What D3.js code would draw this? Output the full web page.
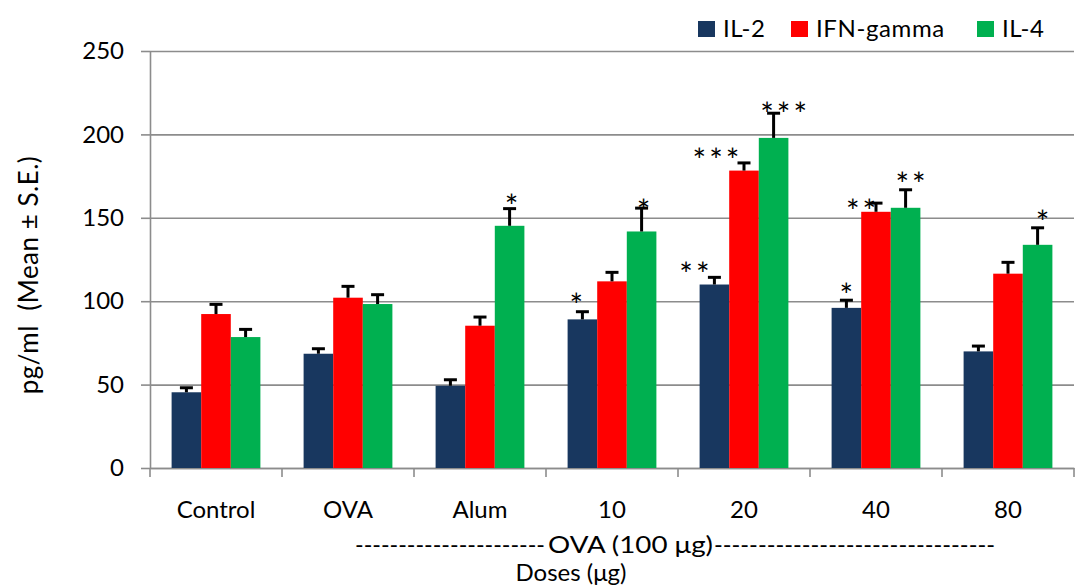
<!DOCTYPE html>
<html>
  <head>
    <script type="text/javascript" src="https://cdn.jsdelivr.net/npm/d3@7"></script>
    <style>
      body { margin: 0; background: #fff; }
      text { font-family: Lato, "Open Sans", sans-serif; fill: #000; }
    </style>
  </head>
  <body>
    <script type="text/javascript">
      // data
      var categories = ["Control", "OVA", "Alum", "10", "20", "40", "80"];
      var seriesNames = ["IL-2", "IFN-gamma", "IL-4"];
      var il2 = [45.4, 68.5, 49.3, 89.1, 110, 96, 69.9];
      var il2Err = [2.7, 3, 3.6, 4.6, 4.3, 4.6, 3.2];
      var ifn = [92.3, 102.1, 85.3, 111.9, 178.3, 153.6, 116.5];
      var ifnErr = [5.8, 6.8, 5.2, 5.4, 4.6, 5.2, 6.8];
      var il4 = [78.5, 98.3, 145.2, 141.8, 197.9, 156, 133.8];
      var il4Err = [4.6, 5.6, 10.3, 14, 14.8, 10.8, 10.2];
      var il2Sig = ["", "", "", "*", "**", "*", ""];
      var ifnSig = ["", "", "", "", "***", "**", ""];
      var il4Sig = ["", "", "*", "*", "***", "**", "*"];
      var yTicks = [0, 50, 100, 150, 200, 250];

      var colors = ["#18375f", "#ff0000", "#00b050"];
      // hand nudges for the star labels: [dx from bar centre, dy of star centre from error cap]
      var starNudge = [
        [[0,0],[0,0],[0,0],[-6,-13],[-20,-10],[0,-12],[0,0]],
        [[0,0],[0,0],[0,0],[0,0],[-28,-9],[-15,1],[0,0]],
        [[0,0],[0,0],[2,-9],[2,-4],[10,-6],[5,-12],[5,-12]]
      ];

      var w = 1078, h = 588;
      var plotL = 150, plotR = 1074, plotT = 51, plotB = 468;

      var rows = seriesNames.map(function(name, s) {
        var vals = [il2, ifn, il4][s], errs = [il2Err, ifnErr, il4Err][s], sig = [il2Sig, ifnSig, il4Sig][s];
        return categories.map(function(c, i) {
          return { s: s, name: name, cat: c, i: i, v: vals[i], e: errs[i], sig: sig[i] };
        });
      });
      var flat = d3.merge(rows);

      var x = d3.scaleBand().domain(categories).range([plotL, plotR]).paddingInner(0).paddingOuter(0);
      var x1 = d3.scaleBand().domain(seriesNames).range([0, x.bandwidth()]).paddingInner(0).paddingOuter(0.73);
      var y = d3.scaleLinear().domain([0, 250]).range([plotB, plotT]);

      var svg = d3.select("body").append("svg")
        .attr("width", w)
        .attr("height", h);

      // gridlines
      var grid = svg.append("g")
        .attr("transform", "translate(" + plotL + ",0)")
        .call(d3.axisLeft(y).tickValues(yTicks).tickSize(-(plotR - plotL)).tickFormat(""));
      grid.select(".domain").remove();
      grid.selectAll("line").attr("stroke", "#8c8c8c").attr("stroke-width", 1.6);

      // y axis
      var yAxis = svg.append("g")
        .attr("transform", "translate(" + plotL + ",0)")
        .call(d3.axisLeft(y).tickValues(yTicks).tickSize(9).tickSizeOuter(0).tickPadding(17));
      yAxis.select(".domain").attr("stroke", "#8c8c8c").attr("stroke-width", 1.6);
      yAxis.selectAll("line").attr("stroke", "#8c8c8c").attr("stroke-width", 1.6);
      yAxis.selectAll("text").attr("font-size", "24px").attr("font-family", "Lato, sans-serif").attr("fill", "#000");

      // x axis
      var xAxis = svg.append("g")
        .attr("transform", "translate(0," + plotB + ")")
        .call(d3.axisBottom(x).tickSize(0).tickSizeOuter(0).tickPadding(50));
      xAxis.select(".domain").attr("stroke", "#8c8c8c").attr("stroke-width", 1.6);
      xAxis.selectAll("text").attr("font-size", "24px").attr("font-family", "Lato, sans-serif").attr("fill", "#000").attr("dy", 0);

      // tick marks on band edges
      var edges = categories.map(function(c) { return x(c); }).concat([x(categories[categories.length - 1]) + x.step()]);
      svg.append("g").selectAll("line")
        .data(edges)
        .enter()
        .append("line")
        .attr("x1", d => d).attr("x2", d => d)
        .attr("y1", plotB).attr("y2", plotB + 9)
        .attr("stroke", "#8c8c8c").attr("stroke-width", 1.6);

      // bars
      svg.append("g").selectAll("rect")
        .data(flat)
        .enter()
        .append("rect")
        .attr("x", d => x(d.cat) + x1(d.name))
        .attr("y", d => y(d.v))
        .attr("width", x1.bandwidth())
        .attr("height", d => y(0) - y(d.v))
        .attr("fill", d => colors[d.s]);

      // error bars (upper only)
      var eb = svg.append("g").attr("stroke", "#000").attr("stroke-width", 3);
      eb.selectAll(".stem")
        .data(flat)
        .enter()
        .append("line")
        .attr("x1", d => x(d.cat) + x1(d.name) + x1.bandwidth() / 2)
        .attr("x2", d => x(d.cat) + x1(d.name) + x1.bandwidth() / 2)
        .attr("y1", d => y(d.v))
        .attr("y2", d => y(d.v + d.e));
      eb.selectAll(".cap")
        .data(flat)
        .enter()
        .append("line")
        .attr("x1", d => x(d.cat) + x1(d.name) + x1.bandwidth() / 2 - 6.5)
        .attr("x2", d => x(d.cat) + x1(d.name) + x1.bandwidth() / 2 + 6.5)
        .attr("y1", d => y(d.v + d.e))
        .attr("y2", d => y(d.v + d.e));

      // significance stars
      svg.append("g").selectAll("text")
        .data(flat.filter(d => d.sig))
        .enter()
        .append("text")
        .attr("x", d => x(d.cat) + x1(d.name) + x1.bandwidth() / 2 + starNudge[d.s][d.i][0] + 1.5)
        .attr("y", d => y(d.v + d.e) + starNudge[d.s][d.i][1] + 18.5)
        .attr("text-anchor", "middle")
        .attr("font-family", "'DejaVu Sans', sans-serif")
        .attr("font-size", "32px")
        .attr("letter-spacing", "3px")
        .text(d => d.sig);

      // legend
      var legX = [698, 791, 977];
      var leg = svg.append("g").selectAll("g")
        .data(seriesNames)
        .enter()
        .append("g")
        .attr("transform", (d, i) => "translate(" + legX[i] + ",21)");
      leg.append("rect").attr("width", 17).attr("height", 16).attr("fill", (d, i) => colors[i]);
      leg.append("text").attr("x", 25).attr("y", 16).attr("font-size", "24px")
        .attr("letter-spacing", "0.6px").text(d => d);

      // y axis title
      svg.append("text")
        .attr("transform", "translate(38,275) rotate(-90)")
        .attr("text-anchor", "middle")
        .attr("font-size", "26px")
        .attr("letter-spacing", "0.5px")
        .style("white-space", "pre")
        .text("pg/ml  (Mean \u00b1 S.E.)");

      // OVA (100 ug) bracket line
      svg.append("text").attr("x", 355).attr("y", 553).attr("font-size", "23px")
        .attr("textLength", 190).attr("lengthAdjust", "spacingAndGlyphs")
        .text("----------------------");
      svg.append("text").attr("x", 548).attr("y", 553).attr("font-size", "23px")
        .attr("textLength", 165).attr("lengthAdjust", "spacingAndGlyphs")
        .text("OVA (100 \u03bcg)");
      svg.append("text").attr("x", 714).attr("y", 553).attr("font-size", "23px")
        .attr("textLength", 281).attr("lengthAdjust", "spacingAndGlyphs")
        .text("--------------------------------");

      svg.append("text").attr("x", 571).attr("y", 581).attr("font-size", "24px")
        .attr("text-anchor", "middle")
        .text("Doses (\u03bcg)");
    </script>
  </body>
</html>
